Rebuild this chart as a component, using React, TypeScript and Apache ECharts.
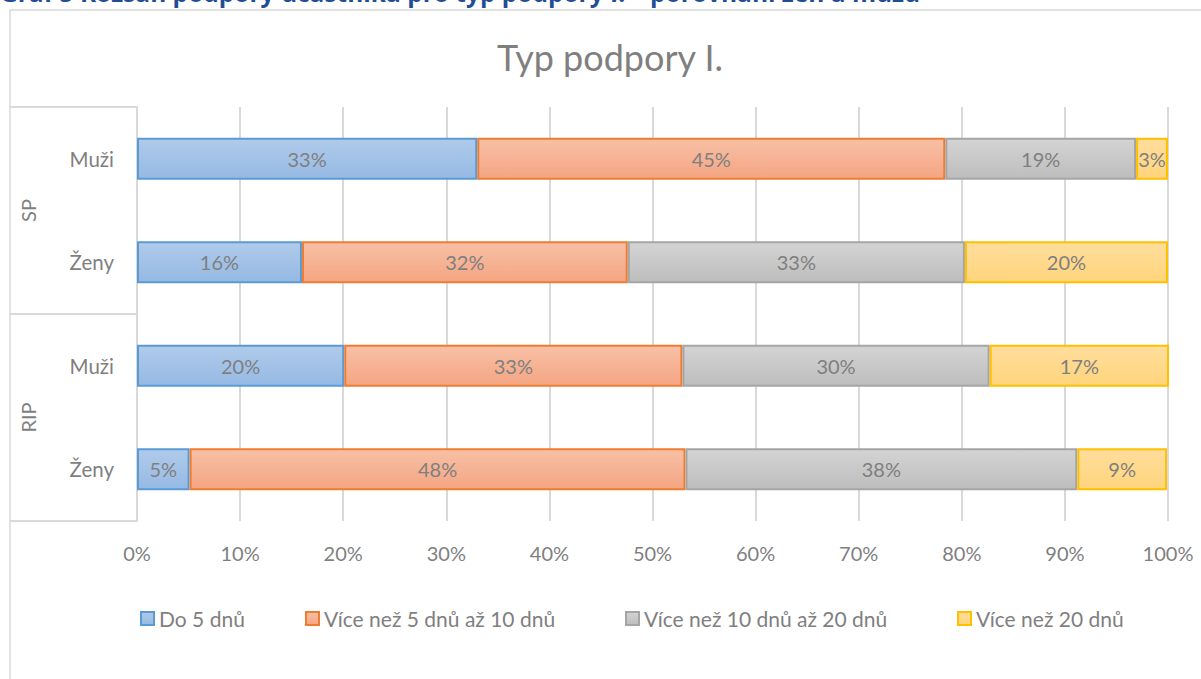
import React, { useEffect, useRef } from "react";
import * as echarts from "echarts";

const groups = ["SP", "RIP"];
const categories = ["SP|Muži", "SP|Ženy", "RIP|Muži", "RIP|Ženy"];
const seriesNames = [
  "Do 5 dnů",
  "Více než 5 dnů až 10 dnů",
  "Více než 10 dnů až 20 dnů",
  "Více než 20 dnů",
];
const do5 = [33.0, 16.0, 20.1, 5.1];
const od5do10 = [45.4, 31.6, 32.8, 48.1];
const od10do20 = [18.5, 32.7, 29.8, 38.0];
const nad20 = [3.1, 19.7, 17.4, 8.7];
const xTicks = [0, 10, 20, 30, 40, 50, 60, 70, 80, 90, 100];

const FONT = "Lato";
const GRAY = "#7f7f7f";
const GRID = "#d9d9d9";

const styles = [
  { top: "#b0cbeb", bottom: "#95b9e3", border: "#5b9bd5" },
  { top: "#f8c0a6", bottom: "#f4a582", border: "#ed7d31" },
  { top: "#d4d4d4", bottom: "#bdbdbd", border: "#a5a5a5" },
  { top: "#ffde9c", bottom: "#ffd47c", border: "#ffc000" },
];

export default function App() {
  const ref = useRef<HTMLDivElement>(null);
  useEffect(() => {
    if (!ref.current) return;
    const chart = echarts.init(ref.current, null, { renderer: "svg" });
    const W = 1201;
    const H = 679;
    const gLeft = 137;
    const gRight = 33;
    const gTop = 107;
    const gBottom = 158;
    const plotH = H - gTop - gBottom;
    const values = [do5, od5do10, od10do20, nad20];

    const groupGraphics: any[] = [];
    const perGroup = categories.length / groups.length;
    groups.forEach((g, i) => {
      const y0 = gTop + (plotH * i * perGroup) / categories.length;
      const y1 = gTop + (plotH * (i + 1) * perGroup) / categories.length;
      groupGraphics.push({
        type: "text",
        x: 28,
        y: (y0 + y1) / 2,
        rotation: Math.PI / 2,
        style: {
          text: g,
          font: `20px ${FONT}`,
          fill: GRAY,
          align: "center",
          verticalAlign: "middle",
        },
      });
    });
    const lineYs = [0, 1, 2].map((i) => gTop + (plotH * i) / groups.length);
    lineYs.forEach((y) => {
      groupGraphics.push({
        type: "line",
        shape: { x1: 10, y1: y, x2: gLeft, y2: y },
        style: { stroke: GRID, lineWidth: 2 },
      });
    });

    const legendLefts = [135, 300, 620, 952];

    chart.setOption({
      animation: false,
      backgroundColor: "#ffffff",
      textStyle: { fontFamily: FONT },
      graphic: [
        {
          type: "rect",
          shape: { x: 10, y: 10, width: W, height: H },
          style: { fill: "none", stroke: GRID, lineWidth: 1.5 },
          silent: true,
        },
        {
          type: "text",
          x: 0,
          y: 5,
          style: {
            text: "Graf 5 Rozsah podpory účastníka pro typ podpory I. – porovnání žen a mužů",
            font: `bold 24.5px "Open Sans"`,
            fill: "#1f4e96",
            align: "left",
            verticalAlign: "bottom",
          },
        },
        {
          type: "text",
          x: 610,
          y: 57,
          style: {
            text: "Typ podpory I.",
            font: `36px ${FONT}`,
            fill: GRAY,
            align: "center",
            verticalAlign: "middle",
          },
        },
        ...groupGraphics,
      ],
      legend: seriesNames.map((name, i) => ({
        left: legendLefts[i],
        top: 603,
        itemWidth: 13,
        itemHeight: 13,
        icon: "rect",
        textStyle: { color: GRAY, fontSize: 21, fontFamily: FONT },
        data: [name],
      })),
      grid: { left: gLeft, right: gRight, top: gTop, bottom: gBottom },
      xAxis: {
        type: "value",
        min: 0,
        max: 100,
        interval: 10,
        axisLine: { show: false },
        axisTick: { show: false },
        splitLine: { lineStyle: { color: GRID, width: 2 } },
        axisLabel: {
          formatter: (v: number) => (xTicks.includes(v) ? `${v}%` : ""),
          color: GRAY,
          fontSize: 20,
          fontFamily: FONT,
          margin: 22,
        },
      },
      yAxis: {
        type: "category",
        inverse: true,
        data: categories,
        axisLine: { show: true, lineStyle: { color: GRID, width: 2 } },
        axisTick: { show: false },
        axisLabel: {
          formatter: (v: string) => v.split("|")[1],
          color: GRAY,
          fontSize: 20.5,
          fontFamily: FONT,
          margin: 23,
        },
      },
      series: seriesNames.map((name, i) => ({
        name,
        type: "bar",
        stack: "total",
        barWidth: 42,
        data: values[i],
        itemStyle: {
          color: new echarts.graphic.LinearGradient(0, 0, 0, 1, [
            { offset: 0, color: styles[i].top },
            { offset: 1, color: styles[i].bottom },
          ]),
          borderColor: styles[i].border,
          borderWidth: 2,
        },
        label: {
          show: true,
          position: "inside",
          formatter: (p: any) => `${Math.round(p.value)}%`,
          color: GRAY,
          fontSize: 20,
          fontFamily: FONT,
        },
      })),
    });
    return () => chart.dispose();
  }, []);
  return (
    <div
      ref={ref}
      style={{ position: "absolute", left: 0, top: 0, width: 1201, height: 679 }}
    />
  );
}
